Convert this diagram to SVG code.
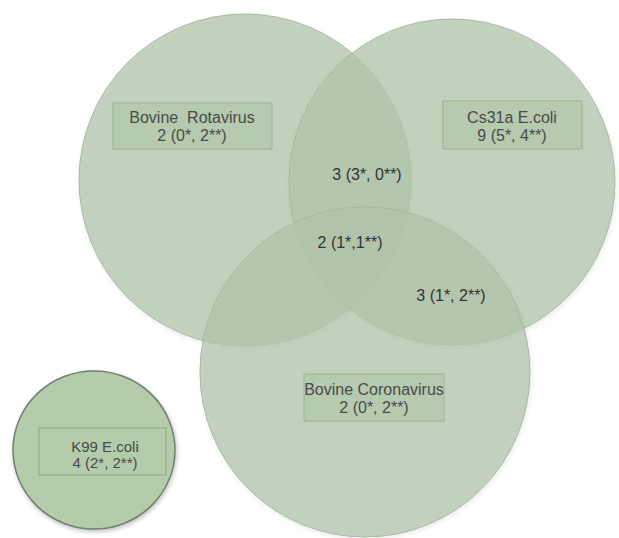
<svg xmlns="http://www.w3.org/2000/svg" width="619" height="538" viewBox="0 0 619 538">
  <defs>
    <filter id="shadow" x="-10%" y="-10%" width="125%" height="125%">
      <feDropShadow dx="1" dy="2" stdDeviation="2" flood-color="#000" flood-opacity="0.10"/>
    </filter>
    <filter id="shadow2" x="-10%" y="-10%" width="125%" height="125%">
      <feDropShadow dx="1" dy="2" stdDeviation="2" flood-color="#000" flood-opacity="0.25"/>
    </filter>
  </defs>
  <style>
    .set { fill: #b1c5ab; fill-opacity: 0.75; stroke: #a5b9a0; stroke-width: 1; }
    .box { fill: #a8c3a0; fill-opacity: 0.5; stroke: #9cb396; stroke-width: 1; }
    .lbl { font-family: "Liberation Sans", Arial, sans-serif; font-size: 16px; fill: #4a4a4a; text-anchor: middle; white-space: pre; }
    .num { font-family: "Liberation Sans", Arial, sans-serif; font-size: 16px; fill: #333333; text-anchor: middle; }
  </style>
  <rect width="619" height="538" fill="#ffffff"/>

  <g id="rotavirus">
    <circle class="set" cx="245" cy="180" r="166" filter="url(#shadow)"/>
  </g>
  <g id="cs31a">
    <circle class="set" cx="452" cy="182" r="163" filter="url(#shadow)"/>
  </g>
  <g id="coronavirus">
    <circle class="set" cx="365" cy="372" r="165" filter="url(#shadow)"/>
  </g>
  <g id="k99">
    <ellipse cx="94" cy="450" rx="81" ry="79" fill="#b4cca9" stroke="#6f806f" stroke-width="1.5" filter="url(#shadow2)"/>
  </g>

  <g id="connectors"/>

  <g id="rotavirus-label">
    <rect class="box" x="113" y="103" width="159" height="46"/>
    <text class="lbl" x="192" y="123">Bovine  Rotavirus</text>
    <text class="lbl" x="192" y="141">2 (0*, 2**)</text>
  </g>
  <g id="cs31a-label">
    <rect class="box" x="443" y="101" width="139" height="48"/>
    <text class="lbl" x="512" y="123">Cs31a E.coli</text>
    <text class="lbl" x="512" y="141">9 (5*, 4**)</text>
  </g>
  <g id="coronavirus-label">
    <rect class="box" x="304" y="374" width="140" height="47"/>
    <text class="lbl" x="374" y="395">Bovine Coronavirus</text>
    <text class="lbl" x="374" y="413">2 (0*, 2**)</text>
  </g>
  <g id="k99-label">
    <rect x="39" y="428" width="127" height="47" fill="none" stroke="#8ea389" stroke-width="1"/>
    <text class="lbl" x="105" y="452" style="font-size:15px">K99 E.coli</text>
    <text class="lbl" x="105" y="468" style="font-size:15px">4 (2*, 2**)</text>
  </g>

  <g id="rota-cs31a">
    <text class="num" x="367" y="180">3 (3*, 0**)</text>
  </g>
  <g id="all-three">
    <text class="num" x="350" y="248">2 (1*,1**)</text>
  </g>
  <g id="cs31a-corona">
    <text class="num" x="451" y="301">3 (1*, 2**)</text>
  </g>
</svg>
